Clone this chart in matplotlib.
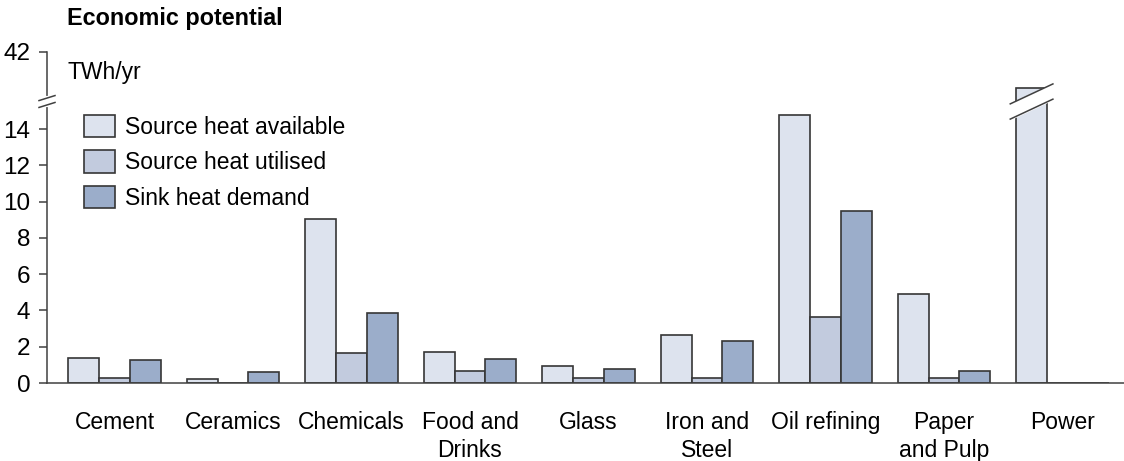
import matplotlib
matplotlib.use("Agg")
import matplotlib.pyplot as plt
import numpy as np

plt.rcParams['font.family'] = ['Liberation Sans', 'DejaVu Sans']

categories = ["Cement", "Ceramics", "Chemicals", "Food and\nDrinks", "Glass",
              "Iron and\nSteel", "Oil refining", "Paper\nand Pulp", "Power"]
heat_available = [1.38, 0.22, 9.04, 1.71, 0.94, 2.65, 14.77, 4.9, 40.0]
heat_utilised = [0.25, 0.0, 1.65, 0.66, 0.28, 0.28, 3.64, 0.25, 0.0]
sink_demand = [1.27, 0.6, 3.86, 1.32, 0.77, 2.3, 9.48, 0.66, 0.0]
yticks = [0, 2, 4, 6, 8, 10, 12, 14, 42]

colors = ["#dde3ee", "#c2cbde", "#9badca"]
edge = "#363636"

# broken axis: values between 15.33 and 39.45 squeezed into a small gap
brk_lo, brk_hi = 15.33, 39.45
v_pts = [-100, 0, brk_lo, brk_hi, 42, 200]
u_pts = [-100, 0, brk_lo, 15.71, 18.25, 18.25 + 158 * (2.54 / 2.55)]

def forward(v):
    return np.interp(v, v_pts, u_pts)

def inverse(u):
    return np.interp(u, u_pts, v_pts)

fig = plt.figure(figsize=(11.24, 4.61), dpi=100)
ax = fig.add_axes([47 / 1124, 78 / 461, 1 - 47 / 1124, (383 - 52) / 461])
ax.set_yscale('function', functions=(forward, inverse))

x = np.arange(len(categories))
w = 0.26
ax.bar(x - w, heat_available, w, color=colors[0], edgecolor=edge, linewidth=1.2,
       label="Source heat available", zorder=2)
ax.bar(x, heat_utilised, w, color=colors[1], edgecolor=edge, linewidth=1.2,
       label="Source heat utilised", zorder=2)
ax.bar(x + w, sink_demand, w, color=colors[2], edgecolor=edge, linewidth=1.2,
       label="Sink heat demand", zorder=2)

ax.set_xlim(-0.57, len(categories) - 0.5 + 0.02)
ax.set_ylim(0, 42)
ax.set_yticks(yticks)
ax.set_xticks(x)
ax.set_xticklabels(categories, fontsize=16.5, linespacing=1.3)
ax.tick_params(axis='x', length=0, pad=20)
ax.tick_params(axis='y', length=6, width=1.1, color="#404040", labelsize=17.5, pad=6)

for s in ['top', 'right']:
    ax.spines[s].set_visible(False)
ax.spines['left'].set_color("#404040")
ax.spines['bottom'].set_color("#404040")
ax.spines['left'].set_linewidth(1.1)
ax.spines['bottom'].set_linewidth(1.1)

# break marks on the y axis
ytop = forward(42)
f_lo = forward(brk_lo) / ytop
f_hi = forward(brk_hi) / ytop
dx = 8 / 1077
dy = 2.5 / 331
ax.plot([-0.001, -0.001], [f_lo, f_hi], transform=ax.transAxes, color="white",
        lw=3, clip_on=False, zorder=5)
for f in (f_lo, f_hi):
    ax.plot([-dx, dx], [f - dy, f + dy], transform=ax.transAxes, color="#404040",
            lw=1.1, clip_on=False, zorder=6)

# break on the Power bar
px = x[-1] - w
mid = (f_lo + f_hi) / 2 * ytop
hw = w / 2 + 0.05
slope = 0.55
band = 0.42
xs = np.array([px - hw, px + hw])
ys = mid + slope * (xs - px) / hw
ax.fill_between(xs, inverse(ys - band), inverse(ys + band), color="white", zorder=4)
ax.plot(xs, inverse(ys - band), color="#404040", lw=1.1, zorder=5)
ax.plot(xs, inverse(ys + band), color="#404040", lw=1.1, zorder=5)

ax.text(67 / 1124, 1 - 18 / 461, "Economic potential", transform=fig.transFigure,
        fontsize=16.8, fontweight='bold', va='center', ha='left')
ax.text(67 / 1124, 1 - 73 / 461, "TWh/yr", transform=fig.transFigure,
        fontsize=16.5, va='center', ha='left')

ax.legend(loc='upper left', bbox_to_anchor=(84 / 1124, 1 - 115 / 461),
          bbox_transform=fig.transFigure, frameon=False, fontsize=16.5,
          handlelength=1.35, handleheight=1.13, handletextpad=0.45,
          labelspacing=0.5, borderpad=0, borderaxespad=0)

fig.savefig("out.png", dpi=100)
